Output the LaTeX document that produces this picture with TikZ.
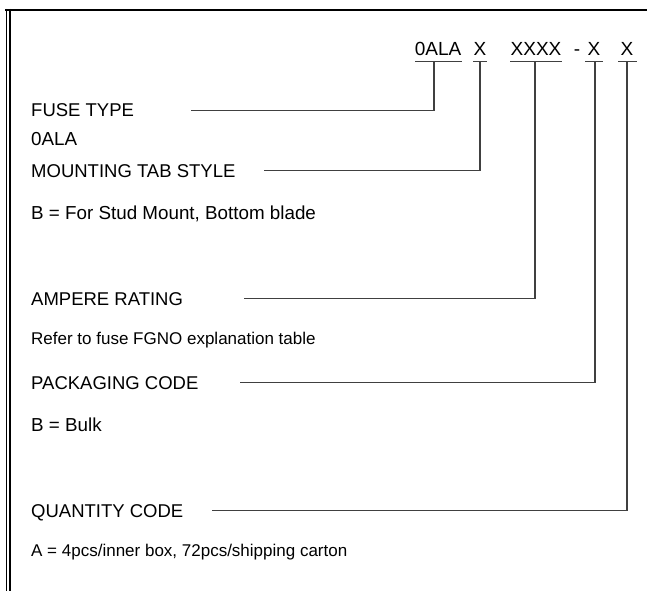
\documentclass[tikz,border=0pt]{standalone}
\usepackage{fontspec}
\setmainfont{Liberation Sans}
\begin{document}
\begin{tikzpicture}[x=1pt,y=-1pt,
  lbl/.style={anchor=base west, inner sep=0pt, font=\fontsize{18.5}{20}\selectfont},
  sub/.style={anchor=base west, inner sep=0pt, font=\fontsize{18.8}{20}\selectfont},
  subs/.style={anchor=base west, inner sep=0pt, font=\fontsize{17}{19}\selectfont},
  pn/.style={anchor=base, inner sep=0pt, font=\fontsize{19}{21}\selectfont},
  conn/.style={line width=1.1pt, draw=black!75},
  uline/.style={line width=1.1pt, draw=black!75},
  frame/.style={line width=2pt, draw=black}]
\useasboundingbox (0,0) rectangle (647,591);
% frame
\draw[frame] (5,10) -- (647,10);
\draw[line width=1.5pt] (6.5,9) -- (6.5,591);
\draw[line width=1.5pt] (10,9) -- (10,591);
% part number
\node[pn] (p1) at (438,56) {0ALA};
\node[pn] (p2) at (480,56) {X};
\node[pn] (p3) at (536,56) {XXXX};
\node[pn] (dash) at (577,56) {-};
\node[pn] (p4) at (594,56) {X};
\node[pn] (p5) at (627,56) {X};
\coordinate (u1) at (434,61.5);
\coordinate (u2) at (480,61.5);
\coordinate (u3) at (535,61.5);
\coordinate (u4) at (595,61.5);
\coordinate (u5) at (627,61.5);
\draw[uline] (415,61.5) -- (462,61.5);
\draw[uline] (473,61.5) -- (487,61.5);
\draw[uline] (510,61.5) -- (562,61.5);
\draw[uline] (585,61.5) -- (603,61.5);
\draw[uline] (618,61.5) -- (637,61.5);
% labels
\node[lbl] (ft) at (31,117) {FUSE TYPE};
\node[sub] (ftv) at (31,145) {0ALA};
\node[lbl] (mt) at (31,177) {MOUNTING TAB STYLE};
\node[sub] (mtv) at (31,219) {B = For Stud Mount, Bottom blade};
\node[lbl] (ar) at (31,305) {AMPERE RATING};
\node[subs] (arv) at (31,344) {Refer to fuse FGNO explanation table};
\node[lbl] (pc) at (31,389) {PACKAGING CODE};
\node[sub] (pcv) at (31,431) {B = Bulk};
\node[lbl] (qc) at (31,517) {QUANTITY CODE};
\node[subs] (qcv) at (31,556) {A = 4pcs/inner box, 72pcs/shipping carton};
% connector starts
\coordinate (s1) at (191,110.5);
\coordinate (s2) at (264,170.5);
\coordinate (s3) at (244,298.5);
\coordinate (s4) at (240,382.5);
\coordinate (s5) at (212,510.5);
\draw[conn] (s1) -- (s1 -| u1) -- (u1);
\draw[conn] (s2) -- (s2 -| u2) -- (u2);
\draw[conn] (s3) -- (s3 -| u3) -- (u3);
\draw[conn] (s4) -- (s4 -| u4) -- (u4);
\draw[conn] (s5) -- (s5 -| u5) -- (u5);
\end{tikzpicture}
\end{document}
